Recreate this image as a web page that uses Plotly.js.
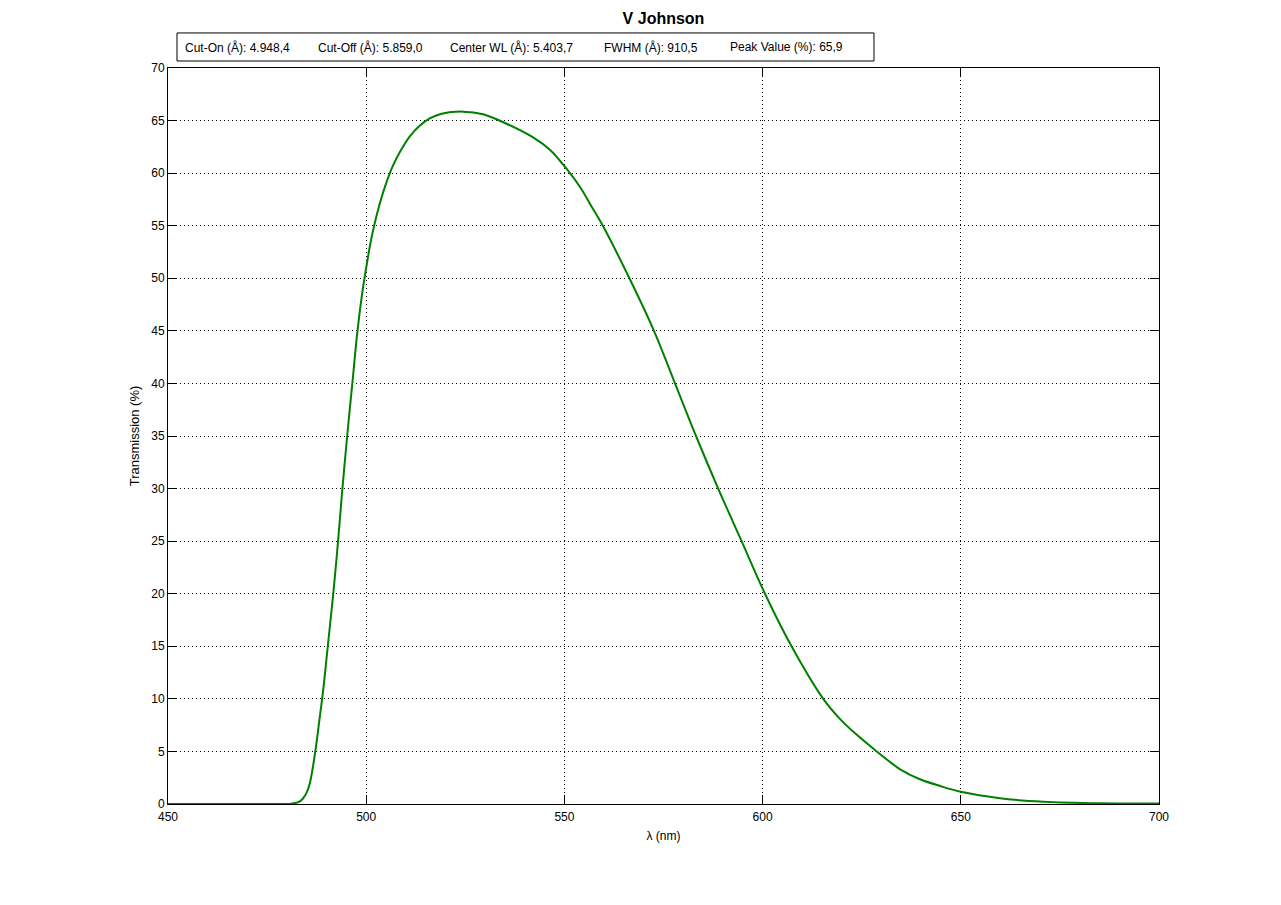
<!DOCTYPE html>
<html>
<head>
<meta charset="utf-8">
<script src="https://cdn.plot.ly/plotly-3.0.1.min.js"></script>
<style>html,body{margin:0;padding:0;background:#fff;}#chart{width:1281px;height:905px;}</style>
</head>
<body>
<div id="chart"></div>
<script>
// Wavelength (nm) and transmission (%)
const wavelength = [450, 460, 470, 478, 481, 483, 484, 485, 485.8, 487.1, 488.2, 489.2, 490.2, 491, 491.7, 492.9, 494.0, 495.2, 496.5, 497.8, 499.0, 500.0, 501.0, 502.0, 503.5, 505.0, 506.5, 508.5, 511.0, 513.5, 516.0, 519.0, 524.5, 529.5, 535.4, 542.1, 546.4, 549.7, 553.9, 556.5, 559.7, 566.4, 572.6, 577.9, 583.2, 588.8, 594.7, 600.6, 607.3, 615.3, 619.5, 623.7, 628.8, 634.7, 639.7, 644.8, 650, 659.9, 670.8, 685.1, 700];
const transmission = [0, 0, 0, 0, 0.02, 0.2, 0.5, 1.1, 2.0, 4.85, 8.0, 11.0, 14.6, 17.5, 20, 25, 30, 35, 40, 45, 48.6, 51.0, 53.2, 55.0, 57.2, 59.0, 60.5, 62.0, 63.5, 64.5, 65.2, 65.65, 65.85, 65.6, 64.7, 63.4, 62.2, 60.8, 58.7, 57.05, 55, 50, 45, 40, 35, 30, 25, 20, 15, 10, 8.1, 6.6, 5, 3.3, 2.35, 1.71, 1.17, 0.54, 0.22, 0.07, 0.05];
const infoLabels = ["Cut-On (Å): 4.948,4", "Cut-Off (Å): 5.859,0", "Center WL (Å): 5.403,7", "FWHM (Å): 910,5", "Peak Value (%): 65,9"];
const xTicks = [450, 500, 550, 600, 650, 700];
const yTicks = [0, 5, 10, 15, 20, 25, 30, 35, 40, 45, 50, 55, 60, 65, 70];

const FONT = "Liberation Sans, Arial, sans-serif";
const infoX = [0.0151, 0.1494, 0.2826, 0.4380, 0.5651];

const annotations = infoLabels.map((t, i) => ({
  text: t, xref: 'paper', yref: 'paper', x: infoX[i], y: 1.0285,
  xanchor: 'left', yanchor: 'middle', showarrow: false,
  font: {family: FONT, size: 12, color: '#000'}
}));

const axisCommon = {
  showline: true, linecolor: '#000', linewidth: 1, mirror: 'allticks',
  ticks: 'inside', ticklen: 9, tickwidth: 1, tickcolor: '#000',
  showgrid: true, gridcolor: '#000', gridwidth: 1, griddash: '1px,3px',
  zeroline: false, tickfont: {family: FONT, size: 12, color: '#000'},
  automargin: false
};

const layout = {
  width: 1281, height: 905,
  margin: {l: 168, r: 122, t: 68, b: 101},
  paper_bgcolor: '#fff', plot_bgcolor: '#fff',
  showlegend: false,
  font: {family: FONT, color: '#000'},
  title: {text: '<b>V Johnson</b>', font: {family: FONT, size: 16, color: '#000'},
          xref: 'paper', x: 0.5, xanchor: 'center', yref: 'container', y: 1 - 18/905, yanchor: 'middle'},
  xaxis: Object.assign({}, axisCommon, {
    range: [450, 700], tickvals: xTicks, ticktext: xTicks.map(String), ticklabelstandoff: 2,
    title: {text: 'λ (nm)', font: {family: FONT, size: 12, color: '#000'}, standoff: 8}
  }),
  yaxis: Object.assign({}, axisCommon, {
    range: [0, 70], tickvals: yTicks, ticktext: yTicks.map(String),
    title: {text: 'Transmission (%)', font: {family: FONT, size: 13, color: '#000'}, standoff: 8}
  }),
  shapes: [{
    type: 'rect', xref: 'paper', yref: 'paper',
    x0: 0.00908, x1: 0.7124, y0: 1.0095, y1: 1.0476,
    line: {color: '#000', width: 1}, fillcolor: 'rgba(0,0,0,0)'
  }],
  annotations: annotations
};

const trace = {
  x: wavelength, y: transmission, type: 'scatter', mode: 'lines',
  line: {color: 'rgb(0,128,0)', width: 2, shape: 'spline', smoothing: 1},
  hoverinfo: 'skip'
};

Plotly.newPlot('chart', [trace], layout, {staticPlot: true, displayModeBar: false});
</script>
</body>
</html>
